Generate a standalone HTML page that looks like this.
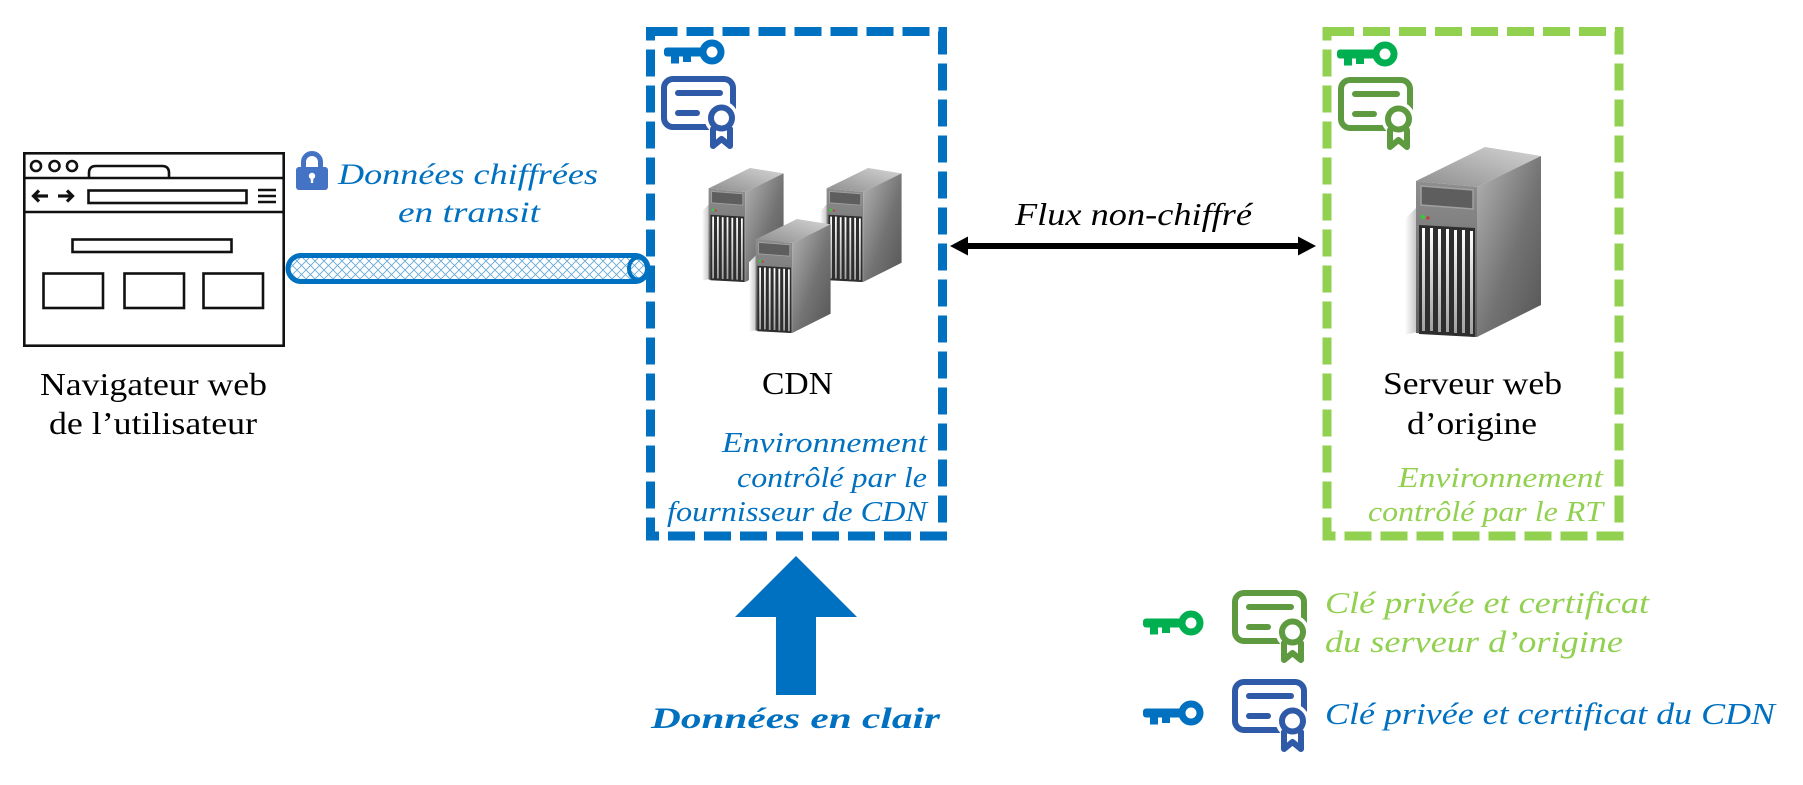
<!DOCTYPE html>
<html>
<head>
<meta charset="utf-8">
<style>
  html, body { margin: 0; padding: 0; background: #ffffff; }
  svg { display: block; }
  text { font-family: "Liberation Serif", "DejaVu Serif", serif; }
</style>
</head>
<body>
<svg width="1803" height="785" viewBox="0 0 1803 785" xmlns="http://www.w3.org/2000/svg">
  <defs>
    <pattern id="hatch" width="9" height="9" patternUnits="userSpaceOnUse">
      <rect width="9" height="9" fill="#ffffff"/>
      <path d="M0,9 L9,0 M0,0 L9,9" stroke="#0070c0" stroke-width="0.9" opacity="0.6"/>
    </pattern>
    <linearGradient id="gFront" x1="0" y1="0" x2="0" y2="1">
      <stop offset="0" stop-color="#8e8e8e"/>
      <stop offset="1" stop-color="#5e5e5e"/>
    </linearGradient>
    <linearGradient id="gSide" x1="0" y1="0" x2="1" y2="1">
      <stop offset="0" stop-color="#b4b4b4"/>
      <stop offset="0.55" stop-color="#737373"/>
      <stop offset="1" stop-color="#555555"/>
    </linearGradient>
    <linearGradient id="gTop" x1="0" y1="1" x2="1" y2="0">
      <stop offset="0" stop-color="#8e8e8e"/>
      <stop offset="1" stop-color="#d4d4d4"/>
    </linearGradient>
    <linearGradient id="gStripe" x1="0" y1="0" x2="0" y2="1">
      <stop offset="0" stop-color="#ffffff"/>
      <stop offset="1" stop-color="#a0a0a0"/>
    </linearGradient>
    <linearGradient id="gShadow" x1="0" y1="0" x2="1" y2="0">
      <stop offset="0" stop-color="#ffffff"/>
      <stop offset="1" stop-color="#c4c4c4"/>
    </linearGradient>

    <g id="server">
      <path d="M0,72 L12,60 L12,185 L0,188 Z" fill="url(#gShadow)"/>
      <path d="M11,34 L72,40 L72,190 L11,186 Z" fill="url(#gFront)"/>
      <path d="M11,34 L80,0 L136,9 L72,40 Z" fill="url(#gTop)"/>
      <path d="M72,40 L136,9 L136,158 L72,190 Z" fill="url(#gSide)"/>
      <path d="M16,39 L68,43 L68,62 L16,58 Z" fill="#5e5e5e" stroke="#a0a0a0" stroke-width="1.5"/>
      <circle cx="18" cy="70" r="2.2" fill="#33cc33"/>
      <circle cx="23" cy="71" r="1.6" fill="#cc3333"/>
      <path d="M14,78 L70,81 L70,190 L14,187 Z" fill="#2e2e2e"/>
      <rect x="17" y="81" width="3" height="103" fill="url(#gStripe)"/>
      <rect x="25" y="81" width="3" height="103" fill="url(#gStripe)"/>
      <rect x="33" y="82" width="3" height="103" fill="url(#gStripe)"/>
      <rect x="41" y="82" width="3" height="103" fill="url(#gStripe)"/>
      <rect x="49" y="83" width="3" height="103" fill="url(#gStripe)"/>
      <rect x="57" y="83" width="3" height="103" fill="url(#gStripe)"/>
      <rect x="65" y="84" width="3" height="103" fill="url(#gStripe)"/>
    </g>

    <g id="key">
      <circle cx="48" cy="13" r="9" fill="none" stroke="currentColor" stroke-width="7"/>
      <rect x="0" y="8.5" width="41" height="9" rx="3" fill="currentColor"/>
      <rect x="7" y="14" width="8" height="10.5" fill="currentColor"/>
      <rect x="19" y="14" width="8" height="9" fill="currentColor"/>
    </g>

    <g id="cert" fill="none" stroke="currentColor" stroke-width="6" stroke-linecap="round">
      <rect x="3" y="3" width="69" height="48" rx="9"/>
      <circle cx="60.5" cy="42" r="17" fill="#ffffff" stroke="none"/>
      <line x1="17" y1="17" x2="59" y2="17"/>
      <line x1="17" y1="37" x2="36" y2="37"/>
      <path d="M52,53 V70 L60.5,63 L69,70 V53" fill="#ffffff" stroke-linejoin="round"/>
      <circle cx="60.5" cy="42" r="10.5" fill="#ffffff"/>
    </g>
  </defs>

  <!-- Browser window -->
  <g fill="none" stroke="#111111" stroke-width="2.6">
    <rect x="24.3" y="153.3" width="259.4" height="192.4"/>
    <line x1="24" y1="178" x2="284" y2="178"/>
    <line x1="24" y1="212" x2="284" y2="212"/>
    <circle cx="36" cy="166" r="5"/>
    <circle cx="54.5" cy="166" r="5"/>
    <circle cx="72" cy="166" r="5"/>
    <path d="M89,178 L89,173 Q89,166 96,166 L162,166 Q169,166 169,173 L169,178"/>
    <rect x="88.5" y="190.5" width="158" height="12.5"/>
    <line x1="258" y1="190" x2="276" y2="190"/>
    <line x1="258" y1="196" x2="276" y2="196"/>
    <line x1="258" y1="202" x2="276" y2="202"/>
    <rect x="72.5" y="239.5" width="159" height="12.5"/>
    <rect x="43.5" y="273.5" width="59.5" height="34.5"/>
    <rect x="124.5" y="273.5" width="59.5" height="34.5"/>
    <rect x="203.5" y="273.5" width="59.5" height="34.5"/>
  </g>
  <g fill="none" stroke="#111111" stroke-width="3.2" stroke-linecap="butt" stroke-linejoin="miter">
    <line x1="34" y1="196" x2="48" y2="196"/>
    <polyline points="39,190.5 33.5,196 39,201.5"/>
    <line x1="58" y1="196" x2="72" y2="196"/>
    <polyline points="67,190.5 72.5,196 67,201.5"/>
  </g>

  <text x="40" y="395" font-size="32" fill="#000" textLength="227" lengthAdjust="spacingAndGlyphs">Navigateur web</text>
  <text x="49" y="434" font-size="32" fill="#000" textLength="208" lengthAdjust="spacingAndGlyphs">de l’utilisateur</text>

  <!-- Lock + encrypted text -->
  <path d="M303.5,169 V162 a8.5,8.5 0 0 1 17,0 V169" fill="none" stroke="#4472c4" stroke-width="5"/>
  <rect x="296" y="167" width="32" height="23" rx="3" fill="#4472c4"/>
  <circle cx="312" cy="176" r="3.2" fill="#ffffff"/>
  <rect x="310.8" y="176" width="2.4" height="7" fill="#ffffff"/>
  <text x="338" y="184" font-size="30" font-style="italic" fill="#0070c0" textLength="260" lengthAdjust="spacingAndGlyphs">Données chiffrées</text>
  <text x="398" y="222" font-size="30" font-style="italic" fill="#0070c0" textLength="142" lengthAdjust="spacingAndGlyphs">en transit</text>

  <!-- Tube -->
  <rect x="288" y="255.5" width="360" height="26" rx="13" fill="url(#hatch)" stroke="#0070c0" stroke-width="5"/>
  <ellipse cx="638" cy="268.5" rx="9" ry="11" fill="url(#hatch)" stroke="#0070c0" stroke-width="4"/>

  <!-- CDN box -->
  <rect x="650.5" y="31.5" width="292" height="504.5" fill="none" stroke="#0070c0" stroke-width="9" stroke-dasharray="27 9"/>
  <use href="#key" transform="translate(664,39)" style="color:#0070c0"/>
  <use href="#cert" transform="translate(661,76)" style="color:#2e5aa7"/>
  <use href="#server" transform="translate(702,168) scale(0.6)"/>
  <use href="#server" transform="translate(820,168) scale(0.6)"/>
  <use href="#server" transform="translate(749,219) scale(0.6)"/>
  <text x="762" y="394" font-size="32" fill="#000" textLength="71" lengthAdjust="spacingAndGlyphs">CDN</text>
  <text x="722" y="452" font-size="29" font-style="italic" fill="#0070c0" textLength="205" lengthAdjust="spacingAndGlyphs">Environnement</text>
  <text x="737" y="487" font-size="29" font-style="italic" fill="#0070c0" textLength="190" lengthAdjust="spacingAndGlyphs">contrôlé par le</text>
  <text x="667" y="521" font-size="29" font-style="italic" fill="#0070c0" textLength="260" lengthAdjust="spacingAndGlyphs">fournisseur de CDN</text>

  <!-- Double arrow -->
  <line x1="964" y1="246" x2="1302" y2="246" stroke="#000" stroke-width="6"/>
  <polygon points="950,246 968,236.5 968,255.5" fill="#000"/>
  <polygon points="1316,246 1298,236.5 1298,255.5" fill="#000"/>
  <text x="1015" y="225" font-size="32" font-style="italic" fill="#000" textLength="237" lengthAdjust="spacingAndGlyphs">Flux non-chiffré</text>

  <!-- Origin box -->
  <rect x="1327" y="31.5" width="292" height="504.5" fill="none" stroke="#92d050" stroke-width="9" stroke-dasharray="27 9"/>
  <use href="#key" transform="translate(1337,41)" style="color:#00b050"/>
  <use href="#cert" transform="translate(1338,77)" style="color:#5e9a40"/>
  <use href="#server" transform="translate(1405,147)"/>
  <text x="1383" y="394" font-size="32" fill="#000" textLength="179" lengthAdjust="spacingAndGlyphs">Serveur web</text>
  <text x="1407" y="434" font-size="32" fill="#000" textLength="130" lengthAdjust="spacingAndGlyphs">d’origine</text>
  <text x="1398" y="487" font-size="29" font-style="italic" fill="#92d050" textLength="205" lengthAdjust="spacingAndGlyphs">Environnement</text>
  <text x="1368" y="521" font-size="29" font-style="italic" fill="#92d050" textLength="235" lengthAdjust="spacingAndGlyphs">contrôlé par le RT</text>

  <!-- Up arrow -->
  <polygon points="796,556 857,617 816,617 816,695 776,695 776,617 735,617" fill="#0070c0"/>
  <text x="651" y="728" font-size="30" font-style="italic" font-weight="bold" fill="#0070c0" textLength="289" lengthAdjust="spacingAndGlyphs">Données en clair</text>

  <!-- Legend -->
  <use href="#key" transform="translate(1143,610)" style="color:#00b050"/>
  <use href="#cert" transform="translate(1232,590)" style="color:#5e9a40"/>
  <text x="1325" y="613" font-size="31" font-style="italic" fill="#92d050" textLength="324" lengthAdjust="spacingAndGlyphs">Clé privée et certificat</text>
  <text x="1325" y="652" font-size="31" font-style="italic" fill="#92d050" textLength="298" lengthAdjust="spacingAndGlyphs">du serveur d’origine</text>

  <use href="#key" transform="translate(1143,700)" style="color:#0070c0"/>
  <use href="#cert" transform="translate(1232,679)" style="color:#2e5aa7"/>
  <text x="1325" y="724" font-size="31" font-style="italic" fill="#0070c0" textLength="450" lengthAdjust="spacingAndGlyphs">Clé privée et certificat du CDN</text>
</svg>
</body>
</html>
